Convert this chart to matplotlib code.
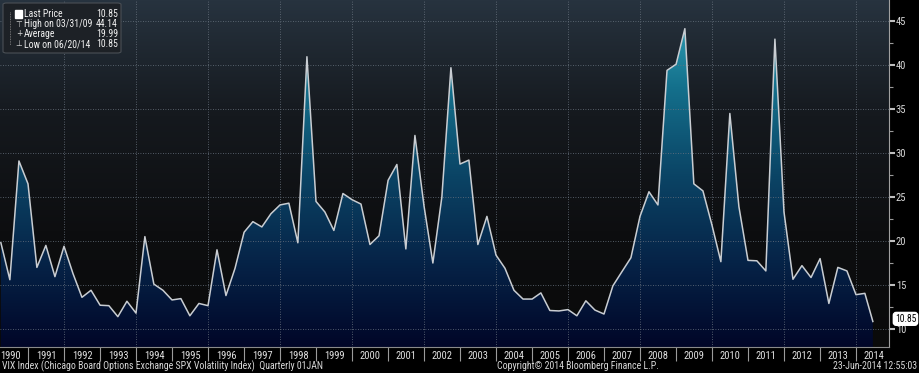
import numpy as np
import pandas as pd
import matplotlib.pyplot as plt
from matplotlib import font_manager
from matplotlib.colors import LinearSegmentedColormap
from matplotlib.patches import Polygon, FancyBboxPatch, Rectangle

# quarterly VIX closes (last point = 20 Jun 2014)
vix = [19.8, 15.6, 29.1, 26.5, 17.0, 19.5, 15.95, 19.4, 16.3, 13.6,
       14.4, 12.7, 12.65, 11.4, 13.15, 11.8, 20.5, 15.1, 14.4, 13.3,
       13.45, 11.5, 12.9, 12.65, 19.0, 13.8, 16.9, 21.0, 22.2, 21.6,
       23.1, 24.1, 24.3, 19.8, 40.95, 24.5, 23.3, 21.2, 25.4, 24.7,
       24.2, 19.6, 20.6, 26.9, 28.7, 19.1, 32.0, 24.0, 17.5, 25.0,
       39.7, 28.75, 29.2, 19.6, 22.8, 18.4, 16.9, 14.4, 13.4, 13.4,
       14.1, 12.1, 12.05, 12.2, 11.5, 13.2, 12.15, 11.7, 14.9, 16.5,
       18.1, 22.8, 25.6, 24.1, 39.4, 40.1, 44.14, 26.5, 25.7, 21.8,
       17.65, 34.5, 23.9, 17.8, 17.75, 16.6, 42.95, 23.3, 15.65, 17.2,
       15.85, 18.0, 12.9, 17.0, 16.6, 13.9, 14.05, 10.85]
dates = list(pd.date_range("1990-03-31", periods=97, freq="QE")) + [pd.Timestamp("2014-06-20")]
years = list(range(1990, 2015))
yticks = [10, 15, 20, 25, 30, 35, 40, 45]

legend_rows = [("Last Price", "10.85"), ("High on 03/31/09", "44.14"),
               ("Average", "19.99"), ("Low on 06/20/14", "10.85")]

t = np.array([d.year + d.dayofyear / 365.0 for d in dates])

# pick a condensed face if there is one, otherwise shrink Liberation Sans
have = {f.name for f in font_manager.fontManager.ttflist}
narrow = [f for f in ["Liberation Sans Narrow", "DejaVu Sans Condensed", "Roboto Condensed"] if f in have]
if narrow:
    plt.rcParams["font.family"] = [narrow[0], "DejaVu Sans"]
    fs = 7.6
else:
    plt.rcParams["font.family"] = ["Liberation Sans", "DejaVu Sans"]
    fs = 6.2

W, H = 919, 373
fig = plt.figure(figsize=(W / 100, H / 100), dpi=100, facecolor="black")
ax = fig.add_axes([0, 1 - 347 / H, 889 / W, 347 / H])

x0, x1 = 1990.222, 2014.917
y0, y1 = 7.95, 47.4

# background gradient
bg = LinearSegmentedColormap.from_list("bg", ["#0a0a0a", "#0d0e10", "#15191e", "#27333f"])
grad = np.linspace(1, 0, 256).reshape(-1, 1)
ax.imshow(grad, extent=[x0, x1, y0, y1], aspect="auto", cmap=bg, zorder=0)

# filled area with vertical gradient clipped to the series
fc = LinearSegmentedColormap.from_list("fill", ["#010628", "#062448", "#0b4566", "#14708c", "#35aabd"])
im = ax.imshow(grad, extent=[x0, x1, y0, y1], aspect="auto", cmap=fc, zorder=2)
verts = [(t[0], y0)] + list(zip(t, vix)) + [(t[-1], y0)]
poly = Polygon(verts, closed=True, facecolor="none", edgecolor="none")
ax.add_patch(poly)
im.set_clip_path(poly)

ax.plot(t, vix, color="#c9cdd2", lw=1.1, zorder=4)

# grid
for yv in yticks:
    ax.axhline(yv, color="#6a7480", lw=0.6, ls=(0, (1, 2)), zorder=3)
for yr in years:
    if yr % 2 == 0:
        ax.axvline(yr, color="#6a7480", lw=0.6, ls=(0, (1, 2)), zorder=3)

ax.set_xlim(x0, x1)
ax.set_ylim(y0, y1)

# right axis
ax.yaxis.tick_right()
ax.set_yticks(yticks)
ax.set_yticks([v + 2.5 for v in yticks[:-1]], minor=True)
ax.tick_params(axis="y", which="major", colors="#bfbfbf", labelcolor="#d8d8d8",
               labelsize=fs, length=4, width=1.5, pad=1)
ax.tick_params(axis="y", which="minor", colors="#9a9a9a", length=3, width=0.8)

# year band
ax.set_xticks([y + 0.5 for y in years])
ax.set_xticklabels([str(y) for y in years])
ax.set_xticks(years[1:], minor=True)
ax.tick_params(axis="x", which="major", length=0, labelcolor="#e0e0e0", labelsize=fs, pad=3)
ax.tick_params(axis="x", which="minor", length=10, width=0.8, colors="#9a9a9a")

for s in ["top", "left"]:
    ax.spines[s].set_visible(False)
ax.spines["right"].set_color("#a0a0a0")
ax.spines["bottom"].set_color("#8a8a8a")
ax.spines["bottom"].set_linewidth(0.8)

# last price tag
ax.text(1.0065, vix[-1] + 0.3, "10.85", transform=ax.get_yaxis_transform(), fontsize=fs - 0.7,
        color="black", va="center", ha="left", zorder=6,
        bbox=dict(boxstyle="round,pad=0.15,rounding_size=0.3", fc="white", ec="white"))

# legend box
fig.patches.append(FancyBboxPatch((3 / W, 1 - 53 / H), 118 / W, 50 / H,
                                  boxstyle="round,pad=0,rounding_size=0.004",
                                  transform=fig.transFigure, fc="#1d2126", ec="#4a4f55", lw=0.8))
fig.add_artist(plt.Line2D([10 / W, 10 / W], [1 - 12 / H, 1 - 45 / H], transform=fig.transFigure,
                          color="#8a8a8a", lw=0.6, ls=(0, (1, 1))))
fig.patches.append(Rectangle((15 / W, 1 - 18 / H), 7 / W, 8 / H, transform=fig.transFigure,
                             fc="white", ec="white"))
icons = ["", "\u22a4", "+", "\u22a5"]
for i, (lab, val) in enumerate(legend_rows):
    yy = 1 - (14 + 10 * i) / H
    if icons[i]:
        fig.text(19 / W, yy, icons[i], color="#d8d8d8", fontsize=5.5, ha="center", va="center",
                 family=["DejaVu Sans"])
    fig.text(24 / W, yy, lab, color="#f0f0f0", fontsize=fs - 0.6, ha="left", va="center")
    fig.text(118 / W, yy, val, color="#f0f0f0", fontsize=fs - 0.6, ha="right", va="center")

# footer
fy = 1 - 366 / H
fig.text(2 / W, fy, "VIX Index (Chicago Board Options Exchange SPX Volatility Index)  Quarterly 01JAN",
         color="#d8d8d8", fontsize=fs - 0.5, ha="left", va="center")
fig.text(497 / W, fy, "Copyright\u00a9 2014 Bloomberg Finance L.P.", color="#d8d8d8",
         fontsize=fs - 0.5, ha="left", va="center")
fig.text(917 / W, fy, "23-Jun-2014 12:55:03", color="#d8d8d8", fontsize=fs - 0.5, ha="right", va="center")

fig.savefig("out.png", dpi=100, facecolor="black")
